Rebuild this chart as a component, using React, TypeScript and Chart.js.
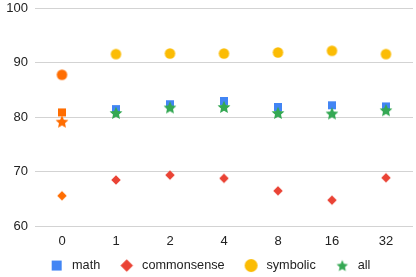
import React, { useEffect, useRef } from 'react';
import { Chart, registerables } from 'chart.js';

Chart.register(...registerables);

const categories = ['0', '1', '2', '4', '8', '16', '32'];
const mathValues = [80.9, 81.5, 82.4, 83.0, 81.9, 82.2, 82.0];
const commonsenseValues = [65.6, 68.5, 69.4, 68.8, 66.5, 64.8, 68.9];
const symbolicValues = [87.8, 91.6, 91.7, 91.7, 91.9, 92.2, 91.6];
const allValues = [79.2, 80.8, 81.8, 81.9, 80.8, 80.7, 81.3];
const seriesNames = ['math', 'commonsense', 'symbolic', 'all'];
const seriesColors = ['#4285f4', '#ea4335', '#fbbc04', '#34a853'];
const seriesShapes = ['square', 'diamond', 'circle', 'star'];
const highlightColor = '#ff6d01';
const yMin = 60;
const yMax = 100;
const yStep = 10;

const pointSizes: Record<string, number> = { square: 8, diamond: 9.5, circle: 10.5, star: 13.5 };
const legendSizes: Record<string, number> = { square: 10, diamond: 12.5, circle: 13, star: 12 };

function marker(shape: string, color: string, size: number): HTMLCanvasElement {
  const c = document.createElement('canvas');
  const s = Math.ceil(size) + 2;
  c.width = s;
  c.height = s;
  const ctx = c.getContext('2d')!;
  ctx.fillStyle = color;
  const m = s / 2;
  const r = size / 2;
  ctx.beginPath();
  if (shape === 'square') {
    ctx.rect(m - r, m - r, size, size);
  } else if (shape === 'diamond') {
    ctx.moveTo(m, m - r);
    ctx.lineTo(m + r, m);
    ctx.lineTo(m, m + r);
    ctx.lineTo(m - r, m);
    ctx.closePath();
  } else if (shape === 'circle') {
    ctx.arc(m, m, r, 0, Math.PI * 2);
  } else {
    for (let i = 0; i < 10; i++) {
      const a = -Math.PI / 2 + (i * Math.PI) / 5;
      const rad = i % 2 ? r * 0.47 : r;
      const px = m + Math.cos(a) * rad;
      const py = m + 0.6 + Math.sin(a) * rad;
      if (i === 0) ctx.moveTo(px, py);
      else ctx.lineTo(px, py);
    }
    ctx.closePath();
  }
  ctx.fill();
  return c;
}

const LEGEND_H = 27.7;
const LEGEND_SHIFT = 7.6;

const legendHeightPlugin = {
  id: 'legendHeight',
  beforeLayout(chart: any) {
    const lg = chart.legend;
    if (lg && !lg._patchedFit) {
      const orig = lg.fit.bind(lg);
      lg.fit = () => {
        orig();
        lg.height = LEGEND_H;
      };
      lg._patchedFit = true;
    }
  },
  afterLayout(chart: any) {
    const lg = chart.legend;
    if (lg) {
      lg.top -= LEGEND_SHIFT;
    }
  },
};

export default function App() {
  const ref = useRef<HTMLCanvasElement | null>(null);

  useEffect(() => {
    document.body.style.margin = '0';
    const values = [mathValues, commonsenseValues, symbolicValues, allValues];
    const datasets = values.map((vals, i) => {
      const shape = seriesShapes[i];
      const normal = marker(shape, seriesColors[i], pointSizes[shape]);
      const hi = marker(shape, highlightColor, pointSizes[shape]);
      return {
        label: seriesNames[i],
        data: vals,
        showLine: false,
        pointStyle: vals.map((_, j) => (j === 0 ? hi : normal)),
        backgroundColor: vals.map((_, j) => (j === 0 ? highlightColor : seriesColors[i])),
        borderColor: seriesColors[i],
        order: 3 - i,
      };
    });
    const legendMarkers = seriesShapes.map((s, i) => marker(s, seriesColors[i], legendSizes[s]));

    const chart = new Chart(ref.current!, {
      type: 'line',
      data: { labels: categories, datasets: datasets as any },
      plugins: [legendHeightPlugin],
      options: {
        animation: false,
        responsive: false,
        maintainAspectRatio: false,
        layout: { padding: { top: 8.3, right: 0, left: 0, bottom: 0 } },
        scales: {
          x: {
            offset: true,
            grid: { display: false, drawTicks: false },
            border: { display: false },
            ticks: { color: '#222', font: { family: 'Liberation Sans, Arial', size: 13 }, padding: 7 },
            afterFit: (scale: any) => {
              scale.height = 23;
            },
          },
          y: {
            min: yMin,
            max: yMax,
            grid: { color: '#d3d3d3', drawTicks: false },
            border: { display: false },
            ticks: {
              stepSize: yStep,
              color: '#222',
              padding: 7,
              font: { family: 'Liberation Sans, Arial', size: 13 },
            },
            afterFit: (scale: any) => {
              scale.width = 35;
              scale.paddingTop = 0;
              scale.paddingBottom = 0;
            },
          },
        },
        plugins: {
          tooltip: { enabled: false },
          legend: {
            position: 'bottom',
            labels: {
              usePointStyle: true,
              pointStyleWidth: 18,
              padding: 17.5,
              color: '#222',
              font: { family: 'Liberation Sans, Arial', size: 12.7 },
              generateLabels: () =>
                seriesNames.map((name, i) => ({
                  text: name,
                  pointStyle: legendMarkers[i],
                  fillStyle: seriesColors[i],
                  strokeStyle: seriesColors[i],
                  lineWidth: 0,
                  hidden: false,
                  datasetIndex: i,
                  fontColor: '#222',
                })) as any,
            },
          },
        },
      },
    });
    return () => chart.destroy();
  }, []);

  return (
    <div style={{ width: 416, height: 277, overflow: 'hidden', background: '#fff' }}>
      <canvas ref={ref} width={418} height={277} style={{ display: 'block' }} />
    </div>
  );
}
